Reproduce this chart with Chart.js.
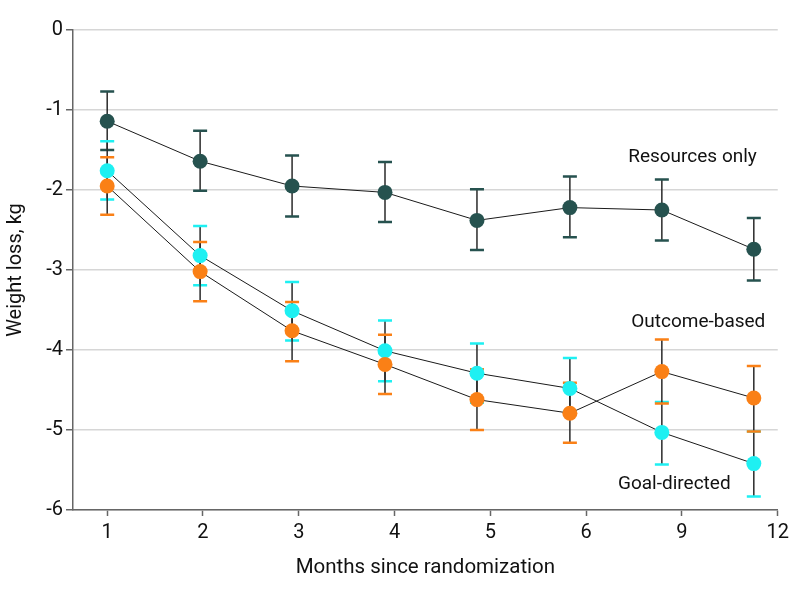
<!DOCTYPE html>
<html>
<head>
<meta charset="utf-8">
<script src="https://cdn.jsdelivr.net/npm/chart.js@4.4.1/dist/chart.umd.min.js"></script>
<style>
  html, body { margin: 0; padding: 0; background: #fff; }
  #wrap { width: 794px; height: 595px; }
</style>
</head>
<body>
<div id="wrap"><canvas id="chart"></canvas></div>
<script>
// --- DATA ---
const tickLabels = ['1', '2', '3', '4', '5', '6', '9', '12'];
// x position of each visit (in tick-index units)
const visitPos = [1, 1.97, 2.93, 3.90, 4.86, 5.83, 6.79, 7.75];

const resourcesMean = [-1.14, -1.64, -1.95, -2.03, -2.38, -2.22, -2.25, -2.74];
const resourcesLow  = [-1.50, -2.01, -2.33, -2.40, -2.75, -2.59, -2.63, -3.13];
const resourcesHigh = [-0.77, -1.26, -1.57, -1.65, -1.99, -1.83, -1.87, -2.35];

const goalMean = [-1.76, -2.82, -3.51, -4.01, -4.29, -4.48, -5.03, -5.42];
const goalLow  = [-2.12, -3.19, -3.88, -4.39, -4.66, -4.77, -5.43, -5.83];
const goalHigh = [-1.39, -2.45, -3.15, -3.63, -3.92, -4.10, -4.65, -5.02];

const outcomeMean = [-1.95, -3.02, -3.76, -4.18, -4.62, -4.79, -4.27, -4.60];
const outcomeLow  = [-2.31, -3.39, -4.14, -4.55, -5.00, -5.16, -4.67, -5.02];
const outcomeHigh = [-1.59, -2.65, -3.40, -3.81, -4.24, -4.41, -3.87, -4.20];

// group labels placed in data coordinates
const groupLabels = [
  { text: 'Resources only', x: 7.11, y: -1.59 },
  { text: 'Outcome-based', x: 7.17, y: -3.65 },
  { text: 'Goal-directed', x: 6.92, y: -5.68 }
];

const FONT = 'Roboto, "Liberation Sans", sans-serif';
const colors = { resources: '#26524f', goal: '#1ef0f2', outcome: '#fa8016' };

const toPoints = (means) => means.map((v, i) => ({ x: visitPos[i], y: v }));

// --- ERROR BARS ---
const errorBars = {
  id: 'errorBars',
  beforeDatasetsDraw(chart) {
    const { ctx, scales: { x, y } } = chart;
    const groups = [
      [resourcesLow, resourcesHigh, colors.resources],
      [goalLow, goalHigh, colors.goal],
      [outcomeLow, outcomeHigh, colors.outcome]
    ];
    ctx.save();
    groups.forEach(([lo, hi, col]) => {
      lo.forEach((l, i) => {
        const px = x.getPixelForValue(visitPos[i]);
        const yl = y.getPixelForValue(l);
        const yh = y.getPixelForValue(hi[i]);
        ctx.strokeStyle = '#2a2a2a';
        ctx.lineWidth = 1.5;
        ctx.beginPath();
        ctx.moveTo(px, yl);
        ctx.lineTo(px, yh);
        ctx.stroke();
        ctx.strokeStyle = col;
        ctx.lineWidth = 2.5;
        ctx.beginPath();
        ctx.moveTo(px - 7, yl); ctx.lineTo(px + 7, yl);
        ctx.moveTo(px - 7, yh); ctx.lineTo(px + 7, yh);
        ctx.stroke();
      });
    });
    ctx.restore();
  }
};

// --- GROUP LABELS ---
const labelPlugin = {
  id: 'groupLabels',
  afterDatasetsDraw(chart) {
    const { ctx, scales: { x, y } } = chart;
    ctx.save();
    ctx.font = '19px ' + FONT;
    ctx.fillStyle = '#111';
    ctx.textAlign = 'center';
    ctx.textBaseline = 'middle';
    groupLabels.forEach(l => {
      ctx.fillText(l.text, x.getPixelForValue(l.x), y.getPixelForValue(l.y));
    });
    ctx.restore();
  }
};

const lineDs = (label, means, col) => ({
  label,
  data: toPoints(means),
  borderColor: '#1a1a1a',
  borderWidth: 1,
  pointRadius: 7.5,
  pointBackgroundColor: col,
  pointBorderWidth: 0,
  tension: 0
});

new Chart(document.getElementById('chart'), {
  type: 'line',
  data: {
    datasets: [
      lineDs('Resources only', resourcesMean, colors.resources),
      lineDs('Outcome-based', outcomeMean, colors.outcome),
      lineDs('Goal-directed', goalMean, colors.goal)
    ]
  },
  options: {
    responsive: true,
    maintainAspectRatio: false,
    animation: false,
    layout: { padding: { top: 30, right: 15, left: 0, bottom: 0 } },
    plugins: { legend: { display: false }, tooltip: { enabled: false } },
    scales: {
      x: {
        type: 'linear',
        min: 0.643,
        max: 8,
        afterBuildTicks: (s) => { s.ticks = tickLabels.map((t, i) => ({ value: i + 1 })); },
        afterFit: (s) => { s.height = 85; },
        ticks: {
          callback: (v) => tickLabels[v - 1],
          color: '#111',
          font: { family: FONT, size: 20 },
          padding: 5,
          maxRotation: 0,
          autoSkip: false
        },
        grid: { drawOnChartArea: false, tickColor: '#666', tickLength: 6, tickWidth: 1.5 },
        border: { color: '#666', width: 1.5 },
        title: {
          display: true,
          text: 'Months since randomization',
          color: '#111',
          font: { family: FONT, size: 20.5 },
          padding: { top: 0, bottom: 15 }
        }
      },
      y: {
        min: -6,
        max: 0,
        afterFit: (s) => { s.width = 73; },
        ticks: {
          stepSize: 1,
          color: '#111',
          font: { family: FONT, size: 20 },
          padding: 3
        },
        grid: { color: '#d6d6d6', lineWidth: 1.5, tickColor: '#666', tickLength: 7, tickWidth: 1.5 },
        border: { color: '#666', width: 1.5 },
        title: {
          display: true,
          text: 'Weight loss, kg',
          color: '#111',
          font: { family: FONT, size: 20 },
          padding: { top: 4, bottom: 0 }
        }
      }
    }
  },
  plugins: [errorBars, labelPlugin]
});
</script>
</body>
</html>
